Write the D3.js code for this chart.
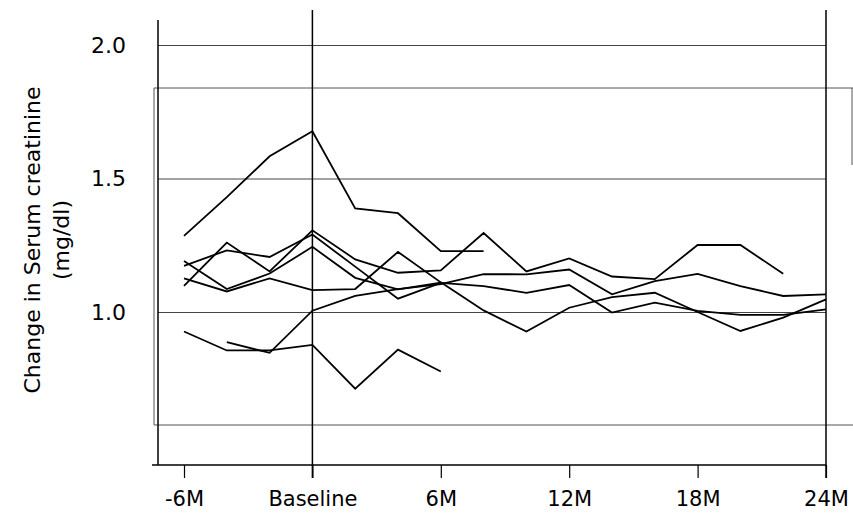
<!DOCTYPE html>
<html>
<head>
<meta charset="utf-8">
<script src="https://cdn.jsdelivr.net/npm/d3@7"></script>
<style>
  body { margin: 0; background: #fff; }
  svg { display: block; }
  text { font-family: "DejaVu Sans", sans-serif; fill: #000; }
</style>
</head>
<body>
<svg id="chart" width="853" height="523"></svg>
<script>
// months relative to baseline, one point every 2 months
const months = [-6, -4, -2, 0, 2, 4, 6, 8, 10, 12, 14, 16, 18, 20, 22, 24];
const xTicks = [-6, 0, 6, 12, 18, 24];
const xTickLabels = ["-6M", "Baseline", "6M", "12M", "18M", "24M"];
const yTicks = [1.0, 1.5, 2.0];

// serum creatinine per patient (null = no visit)
const patient1 = [1.285, 1.43, 1.583, 1.677, 1.388, 1.37, 1.228, 1.228, null, null, null, null, null, null, null, null];
const patient2 = [0.927, 0.856, 0.856, 0.877, 0.713, 0.859, 0.777, null, null, null, null, null, null, null, null, null];
const patient3 = [null, 0.887, 0.847, 1.005, 1.06, 1.086, 1.104, 1.142, 1.141, 1.159, 1.066, 1.116, 1.143, 1.097, 1.06, 1.066];
const patient4 = [1.098, 1.26, 1.152, 1.306, 1.197, 1.147, 1.156, 1.296, 1.152, 1.201, 1.133, 1.123, 1.251, 1.251, 1.143, null];
const patient5 = [1.173, 1.231, 1.206, 1.29, 1.17, 1.05, 1.109, 1.097, 1.072, 1.101, 0.998, 1.035, 1.004, 0.989, 0.989, 1.01];
const patient6 = [1.191, 1.086, 1.144, 1.244, 1.128, 1.085, 1.11, null, null, null, null, null, null, null, null, null];
const patient7 = [1.126, 1.077, 1.126, 1.082, 1.086, 1.225, 1.111, 1.006, 0.927, 1.016, 1.056, 1.072, 1.0, 0.929, 0.979, 1.047];

const patients = [patient1, patient2, patient3, patient4, patient5, patient6, patient7];

const svg = d3.select("#chart");

const x = d3.scaleLinear().domain([-6, 24]).range([184, 826]);
const y = d3.scaleLinear().domain([1, 2]).range([312, 45]);

const axisLeft = 158, axisBottom = 465, plotRight = 826;

// outer frame box (light), its right side runs off the page
const frame = svg.append("g")
    .attr("fill", "none")
    .attr("stroke", "#555")
    .attr("stroke-width", 1);
frame.append("path").attr("d", "M853,88H154V425H853");
frame.append("path").attr("d", "M852,88V165");

// horizontal grid + labels
const yAxis = svg.append("g")
    .attr("transform", `translate(${axisLeft},0)`)
    .call(d3.axisLeft(y)
        .tickValues(yTicks)
        .tickSize(-(plotRight - axisLeft))
        .tickPadding(32)
        .tickFormat(d3.format(".1f")));
yAxis.select(".domain").remove();
yAxis.selectAll("line").attr("stroke", "#444").attr("stroke-width", 1);
yAxis.selectAll("text").attr("font-size", 22).attr("font-family", "DejaVu Sans");

// left axis line
svg.append("line")
    .attr("x1", axisLeft).attr("x2", axisLeft)
    .attr("y1", 20).attr("y2", axisBottom)
    .attr("stroke", "#000").attr("stroke-width", 1.5);

// bottom axis
const xAxis = svg.append("g")
    .attr("transform", `translate(0,${axisBottom})`)
    .call(d3.axisBottom(x)
        .tickValues(xTicks)
        .tickSize(13)
        .tickFormat((d, i) => xTickLabels[i]));
xAxis.select(".domain").remove();
xAxis.selectAll("line").attr("stroke", "#000").attr("stroke-width", 1.2);
xAxis.selectAll("text")
    .attr("font-size", 21)
    .attr("y", 41)
    .attr("dy", null);

svg.append("line")
    .attr("x1", 152).attr("x2", plotRight)
    .attr("y1", axisBottom).attr("y2", axisBottom)
    .attr("stroke", "#000").attr("stroke-width", 1.5);

// baseline and 24M vertical lines
[0, 24].forEach(m => {
    svg.append("line")
        .attr("x1", x(m)).attr("x2", x(m))
        .attr("y1", 10).attr("y2", axisBottom + 13)
        .attr("stroke", "#000").attr("stroke-width", 1.5);
});

// patient lines
const line = d3.line()
    .defined(d => d[1] != null)
    .x(d => x(d[0]))
    .y(d => y(d[1]));

svg.append("g")
    .selectAll("path")
    .data(patients)
    .join("path")
    .attr("d", p => line(months.map((m, i) => [m, p[i]])))
    .attr("fill", "none")
    .attr("stroke", "#000")
    .attr("stroke-width", 1.8)
    .attr("stroke-linejoin", "miter");

// y title
const title = svg.append("text")
    .attr("transform", "translate(40,240) rotate(-90)")
    .attr("text-anchor", "middle")
    .attr("font-size", 22);
title.append("tspan").attr("x", 0).attr("y", 0).text("Change in Serum creatinine");
title.append("tspan").attr("x", 0).attr("y", 29).text("(mg/dl)");
</script>
</body>
</html>
